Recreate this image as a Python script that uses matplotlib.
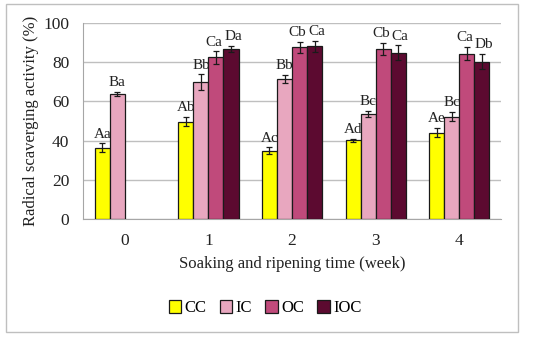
import numpy as np
import matplotlib.pyplot as plt
from matplotlib.patches import Rectangle

plt.rcParams['font.family'] = ['Liberation Serif', 'DejaVu Serif']

# data
weeks = ['0', '1', '2', '3', '4']
series = ['CC', 'IC', 'OC', 'IOC']
colors = ['#FFFF00', '#E8A7BF', '#C04A7B', '#5C0A30']

cc = [36.4, 49.7, 34.9, 40.2, 44.1]
ic = [63.6, 69.8, 71.4, 53.6, 52.2]
oc = [np.nan, 82.4, 87.5, 86.9, 84.4]
ioc = [np.nan, 86.6, 88.0, 84.9, 80.3]

cc_err = [2.2, 2.2, 1.6, 0.8, 2.2]
ic_err = [1.1, 4.0, 2.0, 1.5, 2.3]
oc_err = [np.nan, 3.1, 3.0, 3.1, 3.4]
ioc_err = [np.nan, 1.5, 3.0, 3.6, 4.0]

cc_lab = ['Aa', 'Ab', 'Ac', 'Ad', 'Ae']
ic_lab = ['Ba', 'Bb', 'Bb', 'Bc', 'Bc']
oc_lab = ['', 'Ca', 'Cb', 'Cb', 'Ca']
ioc_lab = ['', 'Da', 'Ca', 'Ca', 'Db']

values = [cc, ic, oc, ioc]
errors = [cc_err, ic_err, oc_err, ioc_err]
labels = [cc_lab, ic_lab, oc_lab, ioc_lab]

fig = plt.figure(figsize=(5.5, 3.37), dpi=100)
ax = fig.add_axes([0.151, 0.350, 0.760, 0.582])

x = np.arange(len(weeks))
w = 0.18
# small sideways nudge so neighbouring letters do not touch
nudge = [0, 0, -1.5, 1.5]
for i, s in enumerate(series):
    pos = x + (i - 1.5) * w
    ax.bar(pos, values[i], w, color=colors[i], edgecolor='#1a1a1a', linewidth=0.9,
           label=s, zorder=3)
    ax.errorbar(pos, values[i], yerr=errors[i], fmt='none', ecolor='#1a1a1a',
                elinewidth=0.9, capsize=2.5, capthick=0.9, zorder=4)
    for j in range(len(weeks)):
        if labels[i][j]:
            ax.annotate(labels[i][j], (pos[j], values[i][j] + errors[i][j]),
                        xytext=(nudge[i], 2), textcoords='offset points',
                        ha='center', va='bottom', fontsize=11, color='#222222')

ax.set_xlim(-0.5, 4.5)
ax.set_ylim(0, 100)
ax.set_yticks(range(0, 101, 20))
ax.set_xticks(x)
ax.set_xticklabels(weeks)
ax.grid(axis='y', color='#BFBFBF', linewidth=1, zorder=0)
ax.tick_params(axis='both', length=0, labelsize=12.5, colors='#222222')
ax.tick_params(axis='y', pad=10)
ax.tick_params(axis='x', pad=10)
for side in ['top', 'right']:
    ax.spines[side].set_visible(False)
for side in ['left', 'bottom']:
    ax.spines[side].set_color('#A6A6A6')
ax.set_ylabel('Radical scaverging activity (%)', fontsize=12, color='#222222', labelpad=3)
ax.set_xlabel('Soaking and ripening time (week)', fontsize=12, color='#222222', labelpad=5)

fig.legend(loc='center', bbox_to_anchor=(0.482, 0.085), ncol=4, frameon=False,
           fontsize=12, handlelength=0.75, handleheight=0.75, handletextpad=0.2,
           columnspacing=0.8)

fig.patches.append(Rectangle((6 / 550, 1 - 332 / 337), 512 / 550, 328 / 337,
                             transform=fig.transFigure, fill=False,
                             edgecolor='#BFBFBF', linewidth=1))

fig.savefig('out.png', dpi=100)
